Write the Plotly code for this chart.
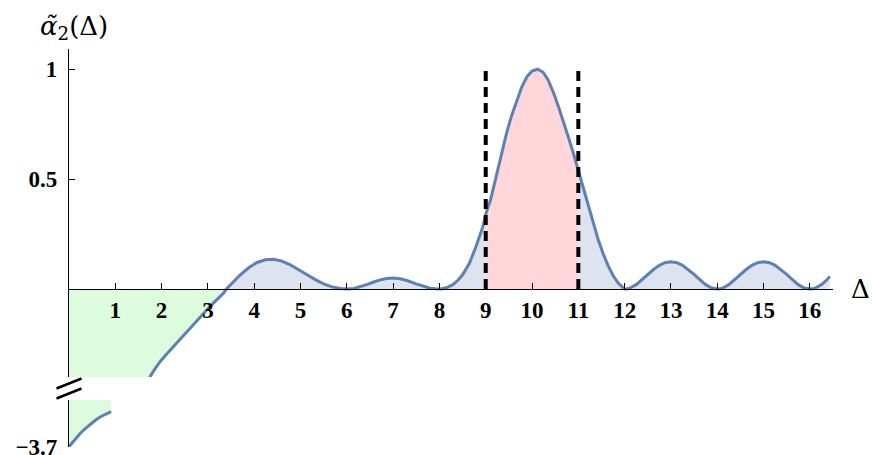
import plotly.graph_objects as go

# ---------------- data ----------------
delta = [0.00, 0.12, 0.24, 0.35, 0.46, 0.57, 0.68, 0.80, 0.91,
         1.50, 1.755, 1.86, 1.97, 2.12, 2.26, 2.44, 2.62, 2.80, 2.98, 3.16, 3.34, 3.40,
         3.55, 3.70, 3.88, 4.06, 4.24, 4.42, 4.60, 4.78, 4.96, 5.14, 5.32, 5.50, 5.68, 5.86, 6.00,
         6.15, 6.30, 6.43, 6.58, 6.72, 6.86, 7.00, 7.15, 7.30, 7.48, 7.65, 7.80, 7.92, 8.03,
         8.15, 8.29, 8.40, 8.50, 8.65, 8.79, 8.94, 9.00, 9.11, 9.24, 9.35, 9.45, 9.56, 9.67, 9.78,
         9.89, 10.00, 10.12, 10.24, 10.35, 10.46, 10.57, 10.68, 10.78, 10.89, 11.00, 11.11,
         11.22, 11.33, 11.43, 11.54, 11.65, 11.76, 11.86, 11.94, 12.00,
         12.06, 12.12, 12.25, 12.37, 12.50, 12.63, 12.75, 12.87, 13.00, 13.13, 13.25, 13.37,
         13.50, 13.63, 13.75, 13.88, 13.94, 14.00,
         14.06, 14.12, 14.25, 14.37, 14.50, 14.63, 14.75, 14.87, 15.00, 15.13, 15.25, 15.37,
         15.50, 15.63, 15.75, 15.88, 15.94, 16.00,
         16.06, 16.12, 16.25, 16.37, 16.43]
alpha2 = [-3.700, -3.668, -3.640, -3.618, -3.598, -3.580, -3.564, -3.551, -3.541,
          -0.620, -0.397, -0.362, -0.329, -0.293, -0.260, -0.218, -0.177, -0.135, -0.094, -0.055, -0.018, 0.000,
          0.033, 0.065, 0.097, 0.121, 0.133, 0.136, 0.127, 0.110, 0.088, 0.065, 0.043, 0.024, 0.010, 0.003, 0.000,
          0.003, 0.011, 0.020, 0.032, 0.042, 0.048, 0.050, 0.047, 0.039, 0.025, 0.012, 0.004, 0.001, 0.000,
          0.006, 0.020, 0.040, 0.065, 0.118, 0.194, 0.285, 0.340, 0.410, 0.525, 0.620, 0.709, 0.790, 0.860, 0.920,
          0.966, 0.992, 1.000, 0.986, 0.950, 0.895, 0.830, 0.763, 0.694, 0.620, 0.542, 0.458,
          0.375, 0.297, 0.224, 0.158, 0.103, 0.058, 0.027, 0.009, 0.000,
          0.001, 0.005, 0.020, 0.042, 0.067, 0.090, 0.108, 0.120, 0.124, 0.120, 0.108, 0.090,
          0.067, 0.042, 0.020, 0.005, 0.001, 0.000,
          0.001, 0.005, 0.020, 0.042, 0.067, 0.090, 0.108, 0.120, 0.124, 0.120, 0.108, 0.090,
          0.067, 0.042, 0.020, 0.005, 0.001, 0.000,
          0.001, 0.005, 0.020, 0.042, 0.058]

lower_end = 0.91          # last Δ shown in the lower (broken) panel
zero_cross = 3.40         # Δ where the curve crosses zero
window = [9, 11]          # dashed window edges
window_top = 1.0
x_ticks = list(range(1, 17))
y_ticks_upper = [0.5, 1]
y_ticks_lower = [-3.7]
y_tick_lower_text = ["\u22123.7"]

# ---------------- styles ----------------
LINE = "#5E81B5"
FILL_POS = "#DDE3EF"
FILL_NEG = "#DDFCDD"
FILL_WIN = "#FFD7DA"
TICKFONT = dict(family="Liberation Serif", size=23, color="black")

W, H = 873, 455
ML, MR, MT, MB = 69, 40, 49, 8
plot_h = H - MT - MB
up_range = [-0.4, 1.092]
low_range = [-3.7015, -3.488]
up_bottom_px = 377
low_top_px = 400
d_up = (H - MB - up_bottom_px) / plot_h
d_low = (H - MB - low_top_px) / plot_h
y0_frac = d_up + (1 - d_up) * (0 - up_range[0]) / (up_range[1] - up_range[0])


def seg(lo, hi):
    xs, ys = [], []
    for a, b in zip(delta, alpha2):
        if lo <= a <= hi:
            xs.append(a)
            ys.append(b)
    return xs, ys


fig = go.Figure()

# fills (upper panel)
for lo, hi, col in [(0, zero_cross, FILL_NEG), (zero_cross, window[0], FILL_POS),
                    (window[0], window[1], FILL_WIN), (window[1], 99, FILL_POS)]:
    xs, ys = seg(lo, hi)
    fig.add_trace(go.Scatter(x=xs, y=ys, mode="none", fill="tozeroy", fillcolor=col,
                             xaxis="x", yaxis="y", hoverinfo="skip", showlegend=False))

# curve (upper panel)
fig.add_trace(go.Scatter(x=delta, y=alpha2, mode="lines", line=dict(color=LINE, width=3),
                         xaxis="x", yaxis="y", showlegend=False))

# lower panel
xl, yl = seg(0, lower_end)
fig.add_trace(go.Scatter(x=xl, y=yl, mode="lines", fill="tozeroy", fillcolor=FILL_NEG,
                         line=dict(color=LINE, width=3), xaxis="x2", yaxis="y2", showlegend=False))

# dashed window edges
for w in window:
    fig.add_trace(go.Scatter(x=[w, w], y=[0, window_top], mode="lines",
                             line=dict(color="black", width=4, dash="10px,6px"),
                             xaxis="x", yaxis="y", showlegend=False))

fig.update_layout(
    width=W, height=H,
    margin=dict(l=ML, r=MR, t=MT, b=MB, autoexpand=False),
    paper_bgcolor="white", plot_bgcolor="rgba(0,0,0,0)",
    showlegend=False,
    xaxis=dict(range=[0, 16.5], anchor="free", position=y0_frac, showgrid=False, zeroline=False,
               showline=True, linecolor="black", linewidth=1.2, automargin=False,
               ticks="inside", ticklen=6, tickwidth=1.2, tickcolor="black",
               tickvals=x_ticks, ticktext=[f"<b>{t}</b>" for t in x_ticks],
               tickfont=TICKFONT, ticklabelstandoff=0),
    xaxis2=dict(range=[0, 16.5], matches="x", anchor="y2", visible=False, automargin=False),
    yaxis=dict(domain=[d_up, 1], range=up_range, anchor="x", showgrid=False, zeroline=False,
               showline=True, linecolor="black", linewidth=1.2, automargin=False,
               ticks="inside", ticklen=6, tickwidth=1.2, tickcolor="black",
               tickvals=y_ticks_upper, ticktext=[f"<b>{t}</b>" for t in y_ticks_upper],
               tickfont=TICKFONT, ticklabelstandoff=6),
    yaxis2=dict(domain=[0, d_low], range=low_range, anchor="x2", showgrid=False, zeroline=False,
                showline=True, linecolor="black", linewidth=1.2, automargin=False,
                ticks="inside", ticklen=6, tickwidth=1.2, tickcolor="black",
                tickvals=y_ticks_lower, ticktext=[f"<b>{t}</b>" for t in y_tick_lower_text],
                tickfont=TICKFONT, ticklabelstandoff=6, ticklabeloverflow="allow"),
)

# axis-break marks (paper coordinates relative to the panel gap)
gap_mid = (d_up + d_low) / 2
dx = 12.5 / (W - ML - MR)
dy = 5 / plot_h
for off in (+5 / plot_h, -5 / plot_h):
    fig.add_shape(type="line", xref="paper", yref="paper",
                  x0=-dx, y0=gap_mid + off - dy, x1=dx, y1=gap_mid + off + dy,
                  line=dict(color="black", width=2.5))

# axis titles
fig.add_annotation(xref="paper", yref="paper", x=(74 - ML) / (W - ML - MR), y=1 + (MT - 27) / plot_h,
                   text="<i>\u03b1\u0303</i><sub>2</sub>(\u0394)", showarrow=False,
                   font=dict(family="DejaVu Serif", size=26, color="black"),
                   xanchor="center", yanchor="middle")
fig.add_annotation(xref="paper", yref="paper", x=1 + (860 - (W - MR)) / (W - ML - MR), y=y0_frac,
                   text="\u0394", showarrow=False,
                   font=dict(family="DejaVu Serif", size=26, color="black"),
                   xanchor="center", yanchor="middle")

fig.write_html("out.html", config={"displayModeBar": False},
               post_script="document.body.style.margin='0px';document.body.style.overflow='hidden';")
